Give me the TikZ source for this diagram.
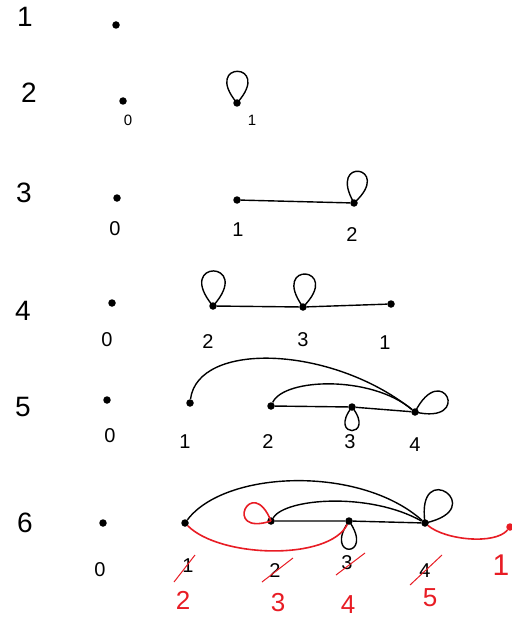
\documentclass[tikz,border=0pt]{standalone}
\usepackage{fontspec}
\setmainfont{Liberation Sans}
\definecolor{hred}{RGB}{232,28,36}
\begin{document}
\begin{tikzpicture}[x=1pt,y=-1pt,
  dot/.style={circle,fill=black,inner sep=0pt,minimum size=7.5pt},
  rdot/.style={dot,fill=hred},
  rowlbl/.style={font=\fontsize{28}{30}\selectfont},
  lbl/.style={font=\fontsize{20}{22}\selectfont},
  rlbl/.style={font=\fontsize{26}{28}\selectfont,text=hred},
  eline/.style={line width=1.4pt,black},
  rline/.style={line width=1.6pt,hred},
  strike/.style={line width=1pt,hred}]
\useasboundingbox (0,0) rectangle (511,623);
\fill[white] (0,0) rectangle (511,623);

% row 1
\node[rowlbl] (R1) at (25,17) {1};
\node[dot] (a0) at (116,25) {};

% row 2
\node[rowlbl] (R2) at (29,93) {2};
\node[dot] (b0) at (123,101) {};
\node[lbl,font=\fontsize{15}{17}\selectfont] (lb0) at (128,120) {0};
\node[dot] (b1) at (237,103) {};
\node[lbl,font=\fontsize{15}{17}\selectfont] (lb1) at (252,120) {1};
\draw[eline] (b1.center) .. controls +(130:56pt) and +(48:56pt) .. (b1.center);

% row 3
\node[rowlbl] (R3) at (24,193) {3};
\node[dot] (c0) at (117,198) {};
\node[lbl] (lc0) at (115,229) {0};
\node[dot] (c1) at (237,200) {};
\node[dot] (c2) at (354,203) {};
\node[lbl] (lc1) at (238,230) {1};
\node[lbl] (lc2) at (352,235) {2};
\draw[eline] (c1) -- (c2);
\draw[eline] (c2.center) .. controls +(120:55pt) and +(42:55pt) .. (c2.center);

% row 4
\node[rowlbl] (R4) at (23,311) {4};
\node[dot] (d0) at (112,303) {};
\node[lbl] (ld0) at (107,340) {0};
\node[dot] (d2) at (213,306) {};
\node[dot] (d3) at (303,307) {};
\node[dot] (d1) at (391,304) {};
\node[lbl] (ld2) at (208,342) {2};
\node[lbl] (ld3) at (303,340) {3};
\node[lbl] (ld1) at (385,343) {1};
\draw[eline] (d2) -- (d3) -- (d1);
\draw[eline] (d2.center) .. controls +(130:62pt) and +(48:62pt) .. (d2.center);
\draw[eline] (d3.center) .. controls +(126:58pt) and +(45:58pt) .. (d3.center);

% row 5
\node[rowlbl] (R5) at (23,407) {5};
\node[dot] (e0) at (107,400) {};
\node[lbl] (le0) at (110,436) {0};
\node[dot] (e1) at (190,403) {};
\node[dot] (e2) at (271,406) {};
\node[dot] (e3) at (352,407) {};
\node[dot] (e4) at (415,412) {};
\node[lbl] (le1) at (185,442) {1};
\node[lbl] (le2) at (268,442) {2};
\node[lbl] (le3) at (350,442) {3};
\node[lbl] (le4) at (415,445) {4};
\draw[eline] (e2) -- (e3) -- (e4);
\draw[eline] (e1) .. controls +(8,-62) and +(-84,-67) .. (e4);
\draw[eline] (e2) .. controls +(13,-28) and +(-44,-37) .. (e4);
\draw[eline] (e3.center) .. controls +(-128:40pt) and +(-52:40pt) .. (e3.center);
\draw[eline] (e4.center) .. controls +(63:60pt) and +(-13:60pt) .. (e4.center);

% row 6
\node[rowlbl] (R6) at (25,523) {6};
\node[dot] (f0) at (103,523) {};
\node[lbl] (lf0) at (100,570) {0};
\node[dot] (f1) at (185,523) {};
\node[dot] (f2) at (271,521) {};
\node[dot] (f3) at (349,521) {};
\node[dot] (f4) at (425,523) {};
\node[rdot] (f5) at (510,527) {};
\draw[eline] (f2) -- (f3) -- (f4);
\draw[eline] (f1) .. controls +(40,-53) and +(-65,-58) .. (f4);
\draw[eline] (f2) .. controls +(15,-23) and +(-55,-31) .. (f4);
\draw[eline] (f3.center) .. controls +(-125:46pt) and +(-55:46pt) .. (f3.center);
\draw[eline] (f4.center) .. controls +(98:68pt) and +(12:68pt) .. (f4.center);
\draw[rline] (f2.center) .. controls +(112:52pt) and +(198:52pt) .. (f2.center);
\draw[rline] (f1) .. controls +(35,35) and +(-20,40) .. (f3);
\draw[rline] (f4) .. controls +(20,17) and +(-15,18) .. (f5);

\node[lbl] (lf1) at (188,566) {1};
\node[lbl] (lf2) at (275,571) {2};
\node[lbl] (lf3) at (347,563) {3};
\node[lbl] (lf4) at (425,571) {4};
\draw[strike] (174,582) -- (195,555);
\draw[strike] (262,582) -- (293,558);
\draw[strike] (336,575) -- (365,553);
\draw[strike] (410,585) -- (442,555);

\node[rlbl] (nf1) at (183,600) {2};
\node[rlbl] (nf2) at (278,603) {3};
\node[rlbl] (nf3) at (348,605) {4};
\node[rlbl] (nf4) at (430,598) {5};
\node[rlbl,font=\fontsize{30}{32}\selectfont] (nf5) at (501,565) {1};
\end{tikzpicture}
\end{document}
